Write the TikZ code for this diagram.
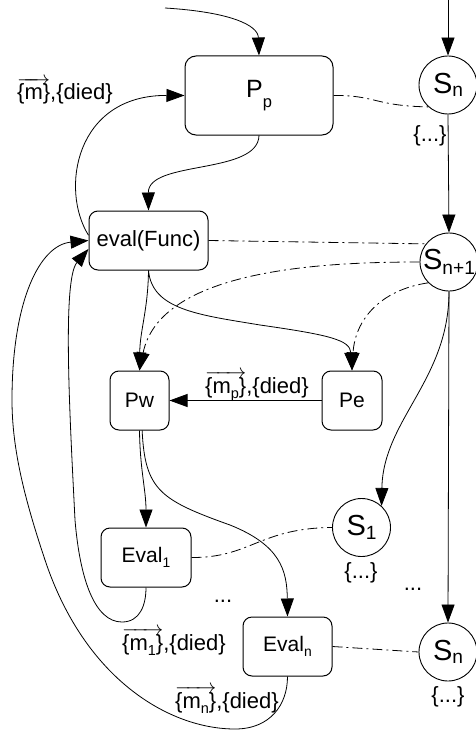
\documentclass[tikz,border=0pt]{standalone}
\usepackage{fontspec}
\setmainfont{Liberation Sans}
\usepackage{graphicx}
\usetikzlibrary{arrows.meta}
\newcommand\lsub[2][0.25em]{\raisebox{-#1}{\scalebox{0.66}{#2}}}
\newcommand\varr[1]{$\overrightarrow{\mbox{#1}}$}
\newcommand\fs[1]{\fontsize{#1}{#1}\selectfont}
\begin{document}
\begin{tikzpicture}[x=1pt,y=-1pt,
 box/.style={draw, line width=1pt, rounded corners=9pt, inner sep=0pt, font=\fs{21}},
 st/.style={draw, circle, line width=0.9pt, minimum size=58pt, inner sep=0pt, font=\fs{29}},
 tip/.style={-{Triangle[length=18pt,width=13pt]}},
 con/.style={line width=0.8pt, tip},
 dd/.style={line width=0.8pt, dash pattern=on 10pt off 4pt on 2pt off 4pt},
 lab/.style={inner sep=0pt, font=\fs{22}, anchor=base west},
 clab/.style={inner sep=0pt, font=\fs{22}, anchor=base}]
\useasboundingbox (0,0) rectangle (475,733);
% boxes
\node[box, minimum width=148pt, minimum height=79pt, rounded corners=11pt, font=\fs{25}] (Pp) at (259,95.5) {P\lsub[0.38em]{p}};
\node[box, minimum width=119pt, minimum height=59pt, font=\fs{22}] (ev) at (148.5,240.5) {eval(Func)};
\node[box, minimum width=59pt, minimum height=59pt] (Pw) at (139.5,400.5) {Pw};
\node[box, minimum width=60pt, minimum height=59pt] (Pe) at (352,400.5) {Pe};
\node[box, minimum width=90pt, minimum height=59pt] (E1) at (146,557.5) {Eval\lsub{1}};
\node[box, minimum width=89pt, minimum height=59pt] (En) at (287.5,646.5) {Eval\lsub{n}};
% states
\node[st] (Sn) at (448,85) {S\lsub[0.1em]{n}};
\node[st] (Snp) at (449,262) {S\lsub[0.15em]{n+1}};
\node[st] (S1) at (361.5,527.5) {S\lsub[0.15em]{1}};
\node[st] (Snb) at (448,652) {S\lsub[0.1em]{n}};
% labels
\node[lab] (l1) at (17,100) {\varr{\{m\}},\{died\}};
\node[lab] (l2) at (205,393) {\varr{\{m\lsub{p}\}},\{died\}};
\node[lab] (l3) at (122,650) {\varr{\{m\lsub{1}\}},\{died\}};
\node[lab] (l4) at (175,708) {\varr{\{m\lsub{n}\}},\{died\}};
\node[clab] (d1) at (430,141) {\{...\}};
\node[clab] (d2) at (361,578) {\{...\}};
\node[clab] (d3) at (448,702) {\{...\}};
\node[clab] (e1) at (223,602) {...};
\node[clab] (e2) at (413,590) {...};
% free ends
\coordinate (in1) at (165,8);
\coordinate (in2) at (448,0);
% solid connectors
\draw[con] (in1) .. controls (230,12) and (258,25) .. (Pp.north);
\draw[con] (in2) -- (Sn.north);
\draw[con] (Sn.south) -- (Snp.north);
\draw[con] (Snp.south) -- (Snb.north);
\draw[con] (Snp.south) .. controls (449,380) and (383,420) .. (S1.47);
\draw[con] (Pp.south) .. controls (258,175) and (148,160) .. (ev.north);
\draw[con] (ev.175) .. controls (60,190) and (75,95) .. (Pp.west);
\draw[con] (ev.south) .. controls (148,310) and (140,330) .. (Pw.north);
\draw[con] (ev.south) .. controls (152,310) and (200,315) .. (260,325) .. controls (330,335) and (350,340) .. (Pe.north);
\draw[con] (Pe.west) -- (Pw.east);
\draw[con] (Pw.south) .. controls (140,470) and (146,490) .. (E1.north);
\draw[con] (Pw.-85) .. controls (145,490) and (160,500) .. (230,525) .. controls (280,545) and (287,570) .. (En.north);
\draw[con] (En.south) .. controls (287.5,705) and (270,729) .. (235,729) .. controls (170,729) and (85,680) .. (45,560) .. controls (25,500) and (12,450) .. (12,400) .. controls (12,300) and (40,245) .. (ev.west);
\draw[con] (E1.south) .. controls (146,605) and (140,622) .. (122,622) .. controls (95,622) and (80,580) .. (75,520) .. controls (70,420) and (62,280) .. (ev.188);
% dash-dotted connectors
\draw[dd] (Pp.east) .. controls (375,95) and (375,106) .. (Sn.228);
\draw[dd] (ev.east) -- (Snp.142);
\draw[dd, tip] (Snp.west) .. controls (320,262) and (160,270) .. (Pw.north);
\draw[dd, tip] (Snp.225) .. controls (380,290) and (355,320) .. (Pe.north);
\draw[dd] (E1.east) .. controls (250,558) and (260,528) .. (S1.west);
\draw[dd] (En.east) -- (Snb.west);
\end{tikzpicture}
\end{document}
